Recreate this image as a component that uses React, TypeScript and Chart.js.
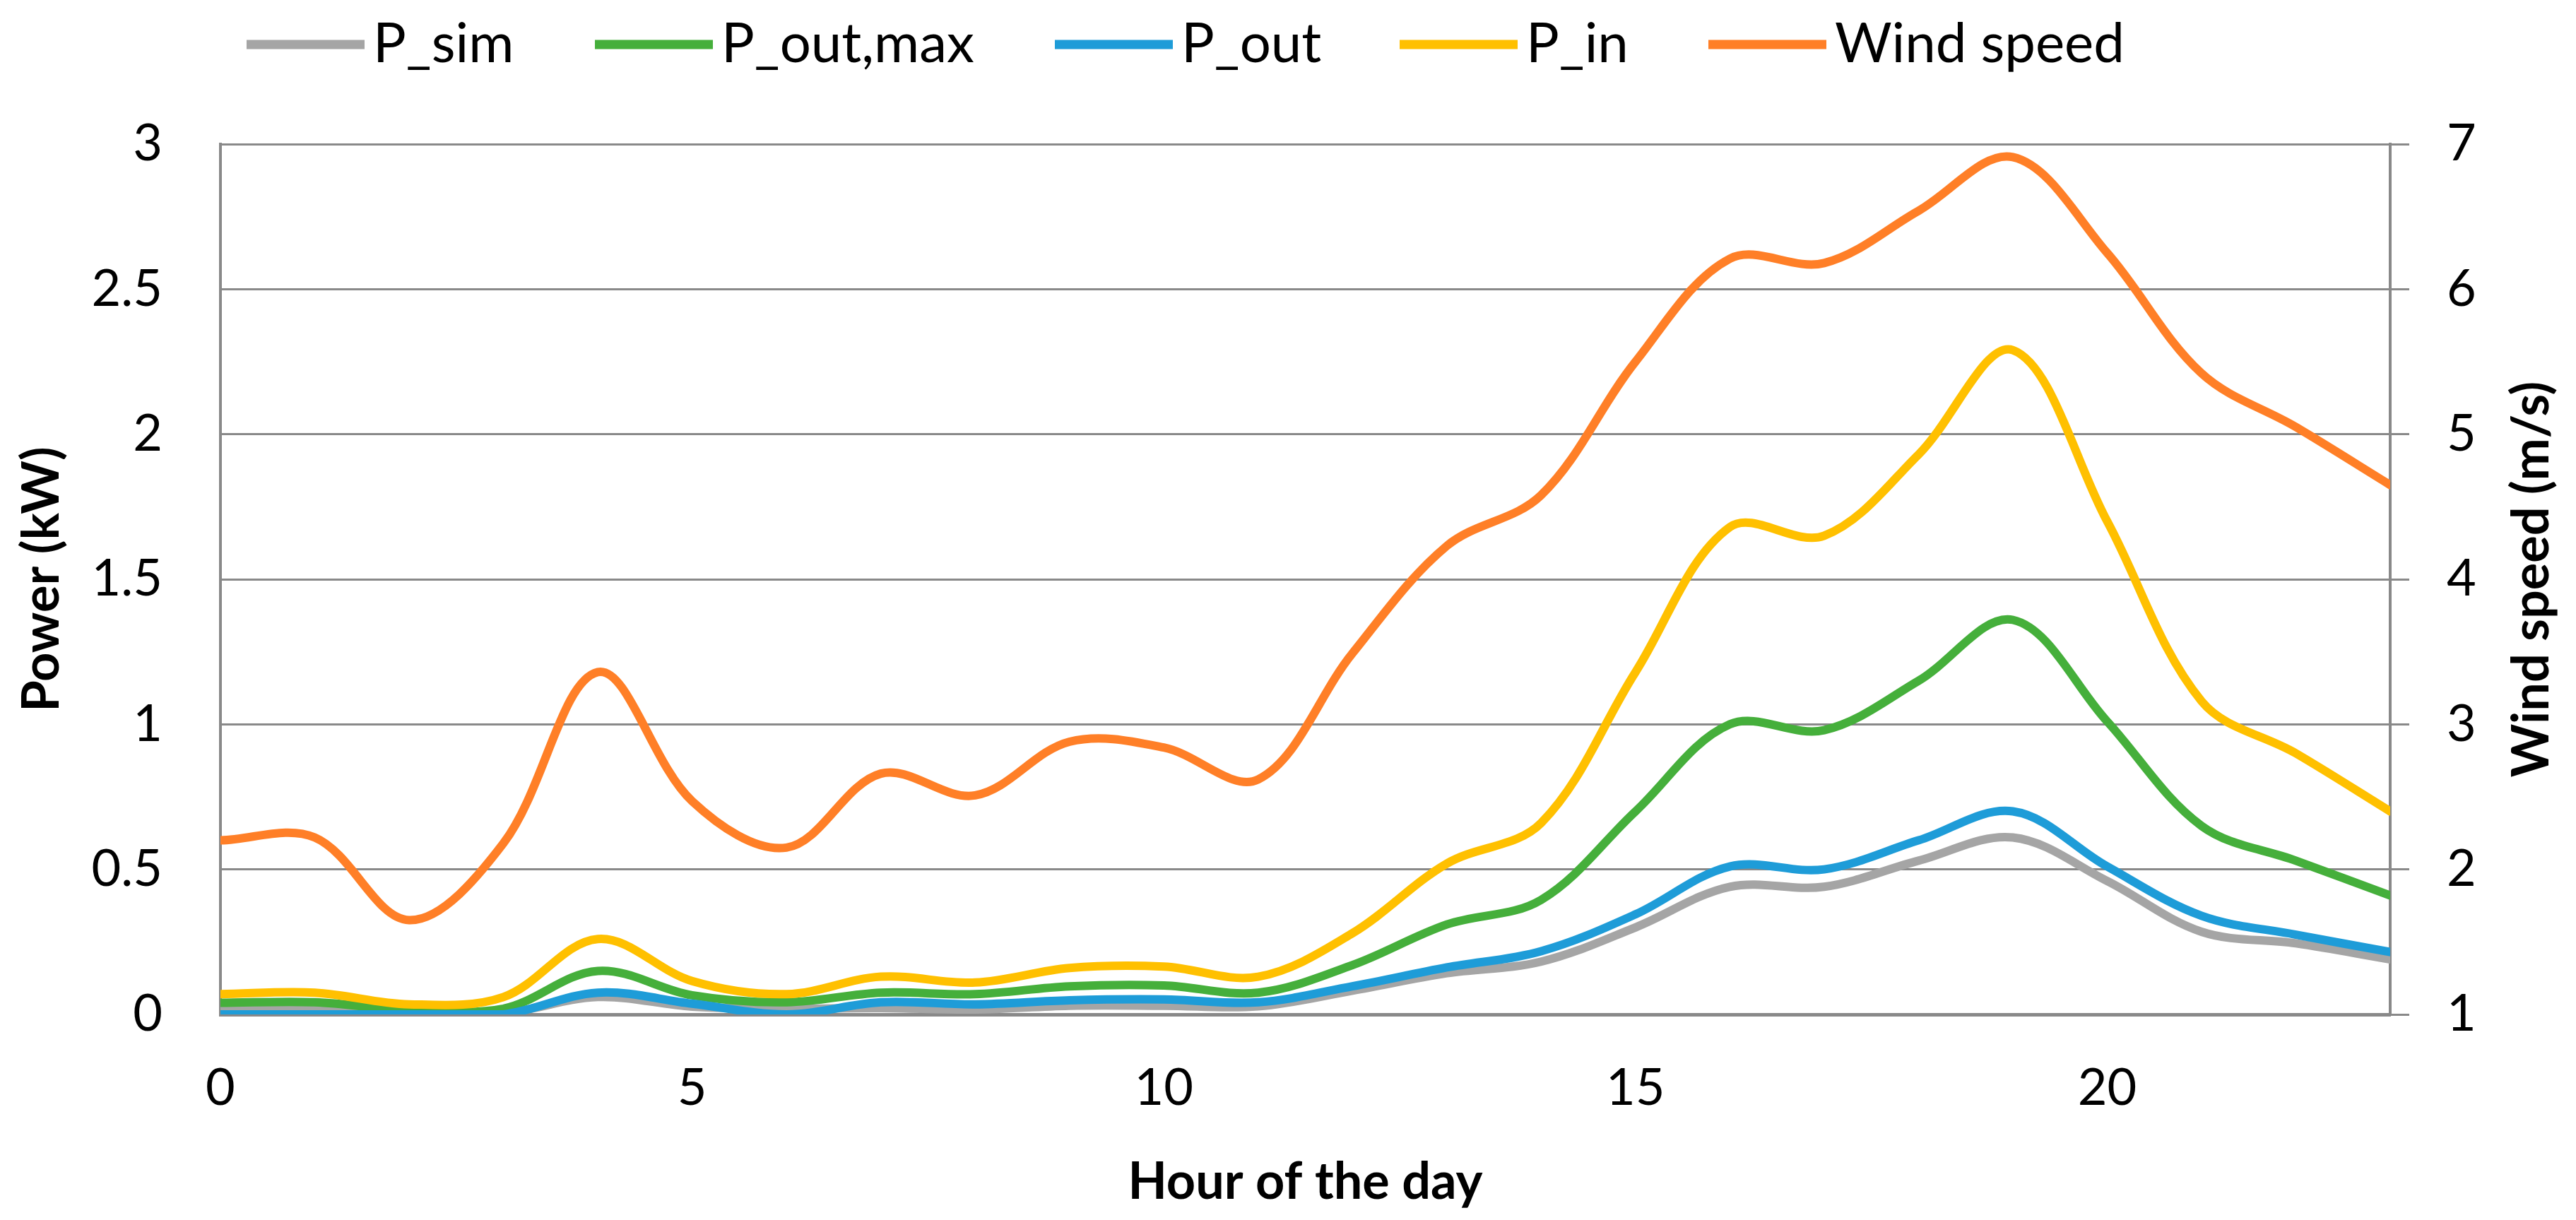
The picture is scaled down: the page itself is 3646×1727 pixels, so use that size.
import React, { useEffect, useRef } from "react";
import { Chart, registerables } from "chart.js";

Chart.register(...registerables);

// ---- data ----
const hours = [0, 1, 2, 3, 4, 5, 6, 7, 8, 9, 10, 11, 12, 13, 14, 15, 16, 17, 18, 19, 20, 21, 22, 23];
const pSim = [0.015, 0.018, 0.008, 0.005, 0.06, 0.027, 0.02, 0.022, 0.017, 0.03, 0.03, 0.028, 0.082, 0.142, 0.182, 0.30, 0.44, 0.44, 0.53, 0.61, 0.46, 0.285, 0.245, 0.19];
const pOutMax = [0.04, 0.042, 0.015, 0.02, 0.15, 0.066, 0.042, 0.075, 0.07, 0.097, 0.10, 0.075, 0.17, 0.31, 0.395, 0.70, 1.00, 0.98, 1.15, 1.36, 1.01, 0.65, 0.53, 0.41];
const pOut = [0, 0, 0, 0, 0.075, 0.037, 0, 0.042, 0.035, 0.049, 0.052, 0.042, 0.097, 0.162, 0.218, 0.345, 0.51, 0.50, 0.60, 0.70, 0.51, 0.34, 0.275, 0.215];
const pIn = [0.07, 0.075, 0.035, 0.06, 0.26, 0.115, 0.07, 0.13, 0.11, 0.16, 0.165, 0.13, 0.28, 0.52, 0.66, 1.18, 1.68, 1.65, 1.93, 2.29, 1.70, 1.08, 0.9, 0.70];
const windSpeed = [2.20, 2.22, 1.65, 2.18, 3.36, 2.47, 2.15, 2.66, 2.51, 2.88, 2.84, 2.62, 3.49, 4.23, 4.58, 5.50, 6.21, 6.18, 6.54, 6.91, 6.25, 5.42, 5.05, 4.65];

const seriesNames = ["P_sim", "P_out,max", "P_out", "P_in", "Wind speed"];
const seriesColors = ["#A5A5A5", "#45AF3B", "#1E9CD8", "#FFC000", "#FF7F27"];
const seriesValues = [pSim, pOutMax, pOut, pIn, windSpeed];
const seriesAxis = ["y", "y", "y", "y", "y1"];

const xTitle = "Hour of the day";
const yTitle = "Power (kW)";
const y1Title = "Wind speed (m/s)";

const FONT = 'Lato, "Open Sans", sans-serif';
const GRID = "#898989";

// legend item start positions (canvas px)
const legendStarts = [341, 834, 1485, 1973, 2410];

const decorPlugin = {
  id: "decor",
  afterDraw(chart: any) {
    const ctx = chart.ctx;
    ctx.save();
    // legend
    ctx.font = `78px ${FONT}`;
    ctx.textBaseline = "middle";
    ctx.textAlign = "left";
    const yMid = 55;
    const lineLen = 167;
    chart.data.datasets.forEach((ds: any, i: number) => {
      const x = legendStarts[i];
      ctx.strokeStyle = ds.borderColor;
      ctx.lineWidth = 13;
      ctx.lineCap = "butt";
      ctx.beginPath();
      ctx.moveTo(x, yMid);
      ctx.lineTo(x + lineLen, yMid);
      ctx.stroke();
      ctx.fillStyle = "#000";
      ctx.fillText(ds.label, x + lineLen + 12, yMid);
    });
    // right axis title, reading bottom-to-top
    const area = chart.chartArea;
    ctx.translate(3576, (area.top + area.bottom) / 2);
    ctx.rotate(-Math.PI / 2);
    ctx.font = `bold 72px ${FONT}`;
    ctx.textAlign = "center";
    ctx.textBaseline = "middle";
    ctx.fillStyle = "#000";
    ctx.fillText(y1Title, 0, 0);
    ctx.restore();
  },
};

export default function App() {
  const ref = useRef<HTMLCanvasElement | null>(null);

  useEffect(() => {
    if (!ref.current) return;
    const datasets = seriesNames.map((name, i) => ({
      label: name,
      data: hours.map((h, j) => ({ x: h, y: seriesValues[i][j] })),
      borderColor: seriesColors[i],
      backgroundColor: seriesColors[i],
      borderWidth: 12,
      borderCapStyle: "round" as const,
      borderJoinStyle: "round" as const,
      pointRadius: 0,
      tension: 0.35,
      fill: false,
      yAxisID: seriesAxis[i],
      order: seriesNames.length - i,
    }));

    const chart = new Chart(ref.current, {
      type: "line",
      data: { datasets },
      plugins: [decorPlugin],
      options: {
        animation: false,
        responsive: true,
        maintainAspectRatio: false,
        devicePixelRatio: 1,
        layout: { padding: { top: 196, left: 0, right: 0, bottom: 0 } },
        plugins: {
          legend: { display: false },
          tooltip: { enabled: false },
        },
        scales: {
          x: {
            type: "linear",
            min: 0,
            max: 23,
            grid: { display: false, drawTicks: false },
            border: { display: true, color: GRID, width: 5 },
            ticks: {
              stepSize: 5,
              includeBounds: false,
              padding: 62,
              color: "#000",
              font: { family: FONT, size: 72 },
              maxRotation: 0,
            },
            title: {
              display: true,
              text: xTitle,
              color: "#000",
              font: { family: FONT, size: 72, weight: "bold" },
              padding: { top: 0, bottom: 2 },
            },
            afterFit: (s: any) => {
              s.height = 283;
            },
          },
          y: {
            type: "linear",
            position: "left",
            min: 0,
            max: 3,
            grid: { color: GRID, lineWidth: 3, drawTicks: false },
            border: { display: true, color: GRID, width: 4 },
            ticks: {
              stepSize: 0.5,
              padding: 82,
              color: "#000",
              font: { family: FONT, size: 72 },
              callback: (v: any) => `${+v}`,
            },
            title: {
              display: true,
              text: yTitle,
              color: "#000",
              font: { family: FONT, size: 72, weight: "bold" },
              padding: { top: 9, bottom: 0 },
            },
            afterFit: (s: any) => {
              s.width = 304;
            },
          },
          y1: {
            type: "linear",
            position: "right",
            min: 1,
            max: 7,
            grid: {
              drawOnChartArea: false,
              drawTicks: true,
              tickLength: 27,
              color: GRID,
              lineWidth: 3,
            },
            border: { display: true, color: GRID, width: 4 },
            ticks: {
              stepSize: 1,
              padding: 53,
              color: "#000",
              font: { family: FONT, size: 72 },
              callback: (v: any) => `${+v}`,
            },
            title: { display: false },
            afterFit: (s: any) => {
              s.width = 255;
            },
          },
        },
      },
    });
    return () => chart.destroy();
  }, []);

  return (
    <div style={{ width: 3630, height: 1711, position: "relative", background: "#fff" }}>
      <canvas ref={ref} />
    </div>
  );
}
